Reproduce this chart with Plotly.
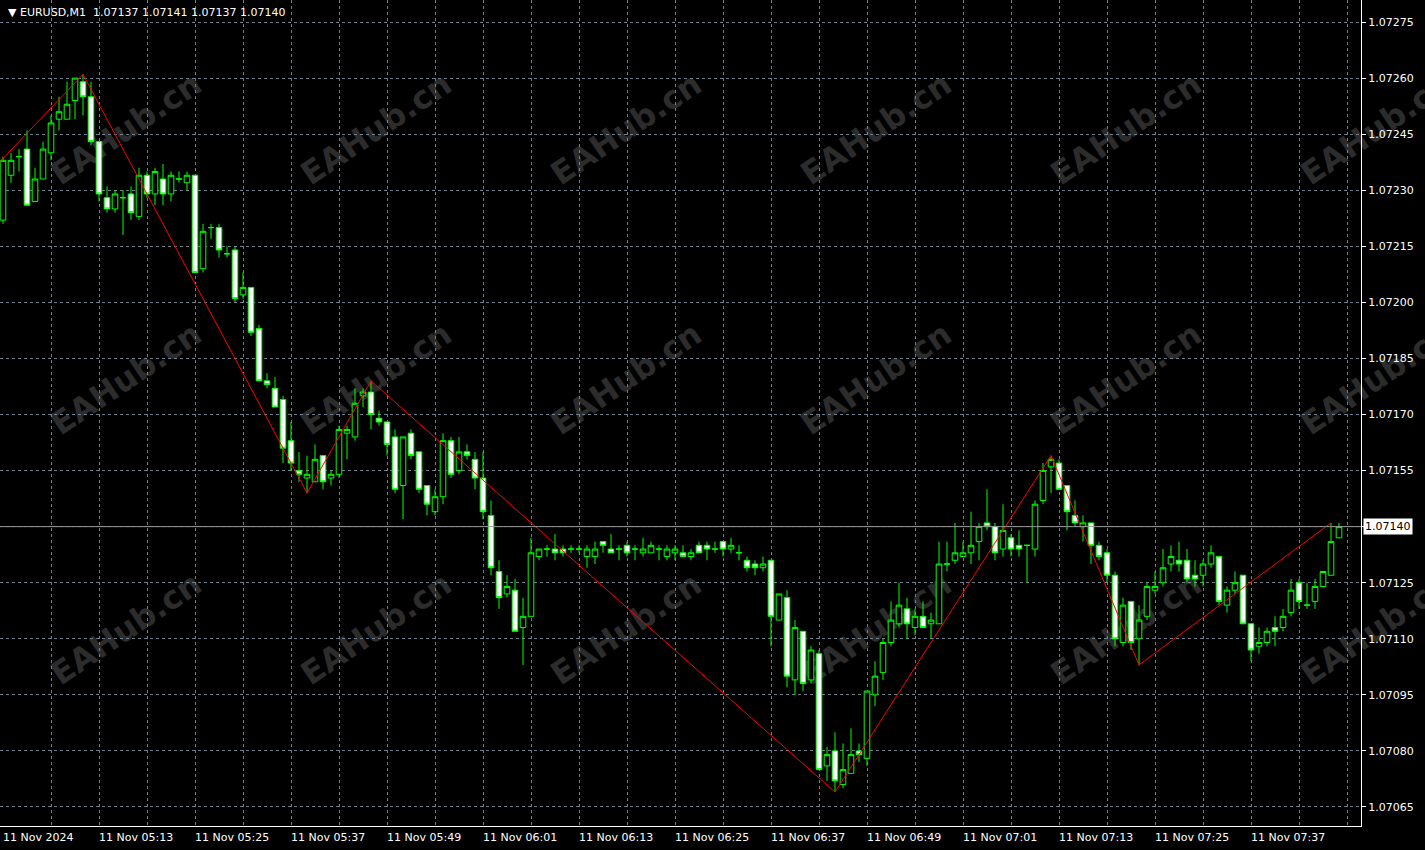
import pandas as pd
import plotly.graph_objects as go

# ---------------- data (EURUSD M1, 11 Nov 2024, from 05:01) ----------------
times = pd.date_range("2024-11-11 05:01", periods=168, freq="min")

open_ = [
    1.07222, 1.07234, 1.07239, 1.07241, 1.07227, 1.07233, 1.07240, 1.07249, 1.07249, 1.07254, 1.07259, 1.07255,
    1.07243, 1.07228, 1.07225, 1.07228, 1.07229, 1.07223, 1.07234, 1.07229, 1.07233, 1.07229, 1.07233, 1.07232,
    1.07234, 1.07209, 1.07220, 1.07220, 1.07213, 1.07214, 1.07202, 1.07204, 1.07193, 1.07179, 1.07177, 1.07174,
    1.07163, 1.07155, 1.07153, 1.07152, 1.07159, 1.07153, 1.07154, 1.07165, 1.07164, 1.07175, 1.07176, 1.07169,
    1.07168, 1.07164, 1.07151, 1.07165, 1.07160, 1.07151, 1.07144, 1.07148, 1.07163, 1.07155, 1.07160, 1.07158,
    1.07153, 1.07143, 1.07128, 1.07122, 1.07123, 1.07113, 1.07116, 1.07132, 1.07134, 1.07134, 1.07134, 1.07134,
    1.07134, 1.07132, 1.07132, 1.07136, 1.07134, 1.07134, 1.07135, 1.07134, 1.07133, 1.07133, 1.07134, 1.07132,
    1.07133, 1.07133, 1.07132, 1.07135, 1.07135, 1.07134, 1.07136, 1.07134, 1.07133, 1.07131, 1.07130, 1.07129,
    1.07131, 1.07115, 1.07121, 1.07099, 1.07112, 1.07099, 1.07106, 1.07076, 1.07080, 1.07071, 1.07074, 1.07080,
    1.07078, 1.07095, 1.07101, 1.07109, 1.07114, 1.07118, 1.07113, 1.07116, 1.07114, 1.07114, 1.07130, 1.07131,
    1.07132, 1.07133, 1.07136, 1.07141, 1.07140, 1.07134, 1.07137, 1.07135, 1.07135, 1.07134, 1.07147, 1.07156,
    1.07157, 1.07151, 1.07143, 1.07140, 1.07141, 1.07135, 1.07133, 1.07127, 1.07109, 1.07120, 1.07110, 1.07116,
    1.07123, 1.07125, 1.07130, 1.07131, 1.07131, 1.07127, 1.07127, 1.07130, 1.07132, 1.07119, 1.07123, 1.07127,
    1.07114, 1.07108, 1.07109, 1.07113, 1.07113, 1.07117, 1.07125, 1.07119, 1.07120, 1.07124, 1.07127, 1.07137,
]
high = [
    1.07239, 1.07240, 1.07241, 1.07246, 1.07236, 1.07243, 1.07250, 1.07255, 1.07259, 1.07260, 1.07261, 1.07259,
    1.07243, 1.07231, 1.07230, 1.07230, 1.07231, 1.07236, 1.07235, 1.07236, 1.07237, 1.07235, 1.07235, 1.07235,
    1.07234, 1.07221, 1.07221, 1.07221, 1.07215, 1.07215, 1.07208, 1.07204, 1.07194, 1.07181, 1.07180, 1.07175,
    1.07168, 1.07160, 1.07159, 1.07162, 1.07159, 1.07155, 1.07167, 1.07167, 1.07177, 1.07177, 1.07179, 1.07171,
    1.07168, 1.07166, 1.07164, 1.07166, 1.07160, 1.07151, 1.07150, 1.07165, 1.07164, 1.07164, 1.07162, 1.07160,
    1.07160, 1.07147, 1.07131, 1.07127, 1.07126, 1.07121, 1.07137, 1.07134, 1.07135, 1.07138, 1.07135, 1.07135,
    1.07135, 1.07135, 1.07136, 1.07136, 1.07138, 1.07135, 1.07136, 1.07135, 1.07137, 1.07136, 1.07135, 1.07135,
    1.07135, 1.07135, 1.07134, 1.07136, 1.07136, 1.07136, 1.07136, 1.07137, 1.07135, 1.07132, 1.07131, 1.07132,
    1.07131, 1.07122, 1.07123, 1.07115, 1.07112, 1.07108, 1.07107, 1.07081, 1.07085, 1.07082, 1.07086, 1.07082,
    1.07096, 1.07104, 1.07110, 1.07120, 1.07125, 1.07121, 1.07118, 1.07120, 1.07117, 1.07136, 1.07136, 1.07141,
    1.07136, 1.07144, 1.07141, 1.07150, 1.07141, 1.07146, 1.07138, 1.07139, 1.07135, 1.07147, 1.07157, 1.07159,
    1.07158, 1.07151, 1.07147, 1.07143, 1.07141, 1.07136, 1.07134, 1.07128, 1.07121, 1.07120, 1.07119, 1.07125,
    1.07128, 1.07134, 1.07135, 1.07136, 1.07134, 1.07131, 1.07131, 1.07135, 1.07132, 1.07124, 1.07128, 1.07127,
    1.07114, 1.07113, 1.07113, 1.07116, 1.07118, 1.07126, 1.07126, 1.07125, 1.07126, 1.07128, 1.07141, 1.07141,
]
low = [
    1.07221, 1.07232, 1.07235, 1.07226, 1.07227, 1.07233, 1.07238, 1.07246, 1.07249, 1.07249, 1.07250, 1.07242,
    1.07227, 1.07224, 1.07224, 1.07218, 1.07222, 1.07222, 1.07228, 1.07226, 1.07226, 1.07227, 1.07232, 1.07230,
    1.07208, 1.07208, 1.07217, 1.07212, 1.07212, 1.07200, 1.07201, 1.07191, 1.07179, 1.07177, 1.07172, 1.07157,
    1.07155, 1.07152, 1.07149, 1.07152, 1.07150, 1.07151, 1.07153, 1.07158, 1.07163, 1.07172, 1.07166, 1.07167,
    1.07159, 1.07149, 1.07142, 1.07158, 1.07149, 1.07143, 1.07143, 1.07146, 1.07153, 1.07154, 1.07158, 1.07150,
    1.07142, 1.07127, 1.07118, 1.07121, 1.07112, 1.07103, 1.07116, 1.07131, 1.07132, 1.07131, 1.07132, 1.07133,
    1.07133, 1.07129, 1.07130, 1.07133, 1.07133, 1.07131, 1.07132, 1.07131, 1.07132, 1.07133, 1.07131, 1.07131,
    1.07131, 1.07132, 1.07131, 1.07133, 1.07131, 1.07133, 1.07132, 1.07133, 1.07131, 1.07128, 1.07127, 1.07128,
    1.07108, 1.07115, 1.07097, 1.07095, 1.07096, 1.07098, 1.07075, 1.07072, 1.07069, 1.07070, 1.07074, 1.07077,
    1.07076, 1.07092, 1.07099, 1.07108, 1.07113, 1.07110, 1.07111, 1.07113, 1.07110, 1.07114, 1.07128, 1.07130,
    1.07132, 1.07130, 1.07131, 1.07139, 1.07131, 1.07132, 1.07132, 1.07132, 1.07125, 1.07132, 1.07146, 1.07149,
    1.07150, 1.07139, 1.07140, 1.07136, 1.07130, 1.07131, 1.07125, 1.07108, 1.07108, 1.07107, 1.07103, 1.07115,
    1.07122, 1.07124, 1.07128, 1.07128, 1.07125, 1.07124, 1.07124, 1.07129, 1.07119, 1.07117, 1.07122, 1.07114,
    1.07104, 1.07106, 1.07108, 1.07108, 1.07112, 1.07116, 1.07118, 1.07118, 1.07118, 1.07124, 1.07127, 1.07137,
]
close = [
    1.07238, 1.07238, 1.07239, 1.07226, 1.07233, 1.07241, 1.07248, 1.07251, 1.07253, 1.07260, 1.07255, 1.07243,
    1.07229, 1.07225, 1.07229, 1.07228, 1.07224, 1.07234, 1.07229, 1.07235, 1.07229, 1.07234, 1.07233, 1.07234,
    1.07208, 1.07219, 1.07220, 1.07214, 1.07213, 1.07201, 1.07204, 1.07192, 1.07179, 1.07178, 1.07172, 1.07161,
    1.07157, 1.07154, 1.07154, 1.07158, 1.07152, 1.07154, 1.07166, 1.07166, 1.07173, 1.07176, 1.07170, 1.07168,
    1.07162, 1.07150, 1.07164, 1.07159, 1.07150, 1.07146, 1.07148, 1.07163, 1.07154, 1.07160, 1.07159, 1.07153,
    1.07144, 1.07129, 1.07121, 1.07124, 1.07112, 1.07116, 1.07133, 1.07134, 1.07134, 1.07133, 1.07133, 1.07134,
    1.07134, 1.07134, 1.07134, 1.07135, 1.07133, 1.07134, 1.07133, 1.07134, 1.07134, 1.07135, 1.07134, 1.07134,
    1.07134, 1.07132, 1.07133, 1.07133, 1.07134, 1.07134, 1.07134, 1.07135, 1.07133, 1.07129, 1.07129, 1.07130,
    1.07116, 1.07122, 1.07100, 1.07113, 1.07098, 1.07107, 1.07075, 1.07079, 1.07072, 1.07075, 1.07079, 1.07079,
    1.07096, 1.07100, 1.07109, 1.07115, 1.07119, 1.07114, 1.07116, 1.07113, 1.07115, 1.07130, 1.07130, 1.07133,
    1.07133, 1.07135, 1.07140, 1.07140, 1.07133, 1.07139, 1.07134, 1.07134, 1.07135, 1.07146, 1.07155, 1.07158,
    1.07150, 1.07144, 1.07141, 1.07141, 1.07135, 1.07132, 1.07127, 1.07110, 1.07119, 1.07109, 1.07115, 1.07124,
    1.07124, 1.07129, 1.07132, 1.07130, 1.07126, 1.07126, 1.07130, 1.07133, 1.07120, 1.07123, 1.07125, 1.07114,
    1.07107, 1.07109, 1.07112, 1.07112, 1.07116, 1.07123, 1.07120, 1.07119, 1.07124, 1.07128, 1.07136, 1.07140,
]

# ZigZag vertices (bar index, price); first vertex lies just left of the visible window
zz_bar = [-2, 10, 38, 46, 104, 131, 142, 166]
zz_price = [1.07234, 1.07261, 1.07149, 1.07179, 1.07069, 1.07159, 1.07103, 1.07141]

price_ticks = [1.07065, 1.07080, 1.07095, 1.07110, 1.07125, 1.07140, 1.07155,
               1.07170, 1.07185, 1.07200, 1.07215, 1.07230, 1.07245, 1.07260, 1.07275]
current_price = 1.07140
header = "\u25BC EURUSD,M1  1.07137 1.07141 1.07137 1.07140"
watermark = "EAHub.cn"

# ---------------- figure ----------------
bars = list(range(len(open_)))
FONT = "DejaVu Sans"
GRID = "rgb(112,128,144)"
LIME = "#00FF00"

W, H = 1425, 850
ML, MR, MT, MB = 0, 64, 0, 24
PW, PH = W - ML - MR, H - MT - MB

fig = go.Figure()

fig.add_trace(go.Candlestick(
    x=bars, open=open_, high=high, low=low, close=close,
    increasing=dict(line=dict(color=LIME, width=1), fillcolor="black"),
    decreasing=dict(line=dict(color=LIME, width=1), fillcolor="white"),
    whiskerwidth=0, hoverinfo="skip", showlegend=False,
))

fig.add_trace(go.Scatter(
    x=zz_bar, y=zz_price, mode="lines",
    line=dict(color="#FF0000", width=1), hoverinfo="skip", showlegend=False,
))

x_lo, x_hi = -0.375, 169.75
y_lo, y_hi = 1.0705991, 1.0728089

shapes = []
# watermarks: paper-referenced, drawn beneath the (transparent) plot area
for cxp in [125, 375, 625, 875, 1125, 1375]:
    for cyp in [127, 377, 627]:
        px, py = cxp / PW, 1 - cyp / PH
        shapes.append(dict(
            type="rect", xref="paper", yref="paper",
            x0=px - 0.01, x1=px + 0.01, y0=py - 0.01, y1=py + 0.01,
            line=dict(width=0), fillcolor="rgba(0,0,0,0)", layer="below",
            label=dict(text=watermark, textangle=-34, textposition="middle center",
                       font=dict(family=FONT, size=32, color="rgb(44,44,44)", weight="bold")),
        ))
# current price line
shapes.append(dict(type="line", xref="paper", yref="y", x0=0, x1=1,
                   y0=current_price, y1=current_price,
                   line=dict(color="rgb(150,150,150)", width=1), layer="above"))

annotations = []
# time labels every 12 bars
for i in range(0, len(times), 12):
    t = times[i]
    txt = t.strftime("%d %b %Y") if i == 0 else t.strftime("%d %b %H:%M")
    annotations.append(dict(
        x=i, xref="x", y=0, yref="paper", yanchor="top", xanchor="left",
        text=txt, showarrow=False, xshift=-2, yshift=-3,
        font=dict(family=FONT, size=11, color="white"),
    ))
annotations.append(dict(
    x=0, xref="paper", y=1, yref="paper", xanchor="left", yanchor="top",
    text=header, showarrow=False, xshift=6, yshift=-4,
    font=dict(family=FONT, size=11, color="white"),
))
annotations.append(dict(
    x=1, xref="paper", y=current_price, yref="y", xanchor="left", yanchor="middle",
    text=f"{current_price:.5f}", showarrow=False, xshift=2,
    bgcolor="white", borderpad=1,
    font=dict(family=FONT, size=11, color="black"),
))

# the current-price box replaces the regular tick label at that level
tick_text = ["" if abs(v - current_price) < 1e-9 else f"{v:.5f}" for v in price_ticks]

fig.update_layout(
    width=W, height=H,
    margin=dict(l=ML, r=MR, t=MT, b=MB),
    paper_bgcolor="black", plot_bgcolor="rgba(0,0,0,0)",
    boxgap=0.3, boxgroupgap=0,
    shapes=shapes, annotations=annotations,
    showlegend=False, hovermode=False,
    xaxis=dict(
        range=[x_lo, x_hi], rangeslider=dict(visible=False),
        tickvals=list(range(6, 170, 6)), showticklabels=False, ticks="",
        showgrid=True, gridcolor=GRID, gridwidth=1, griddash="3px,3px",
        showline=True, linecolor="white", linewidth=1, mirror=False,
        zeroline=False, fixedrange=True,
    ),
    yaxis=dict(
        range=[y_lo, y_hi], side="right",
        tickvals=price_ticks, ticktext=tick_text,
        ticks="outside", ticklen=4, tickcolor="white",
        tickfont=dict(family=FONT, size=11, color="white"),
        showgrid=True, gridcolor=GRID, gridwidth=1, griddash="3px,3px",
        showline=True, linecolor="white", linewidth=1, mirror=True,
        zeroline=False, fixedrange=True,
    ),
)

fig.write_html("out.html", config={"displayModeBar": False},
               post_script="document.body.style.margin='0';document.body.style.overflow='hidden';")
